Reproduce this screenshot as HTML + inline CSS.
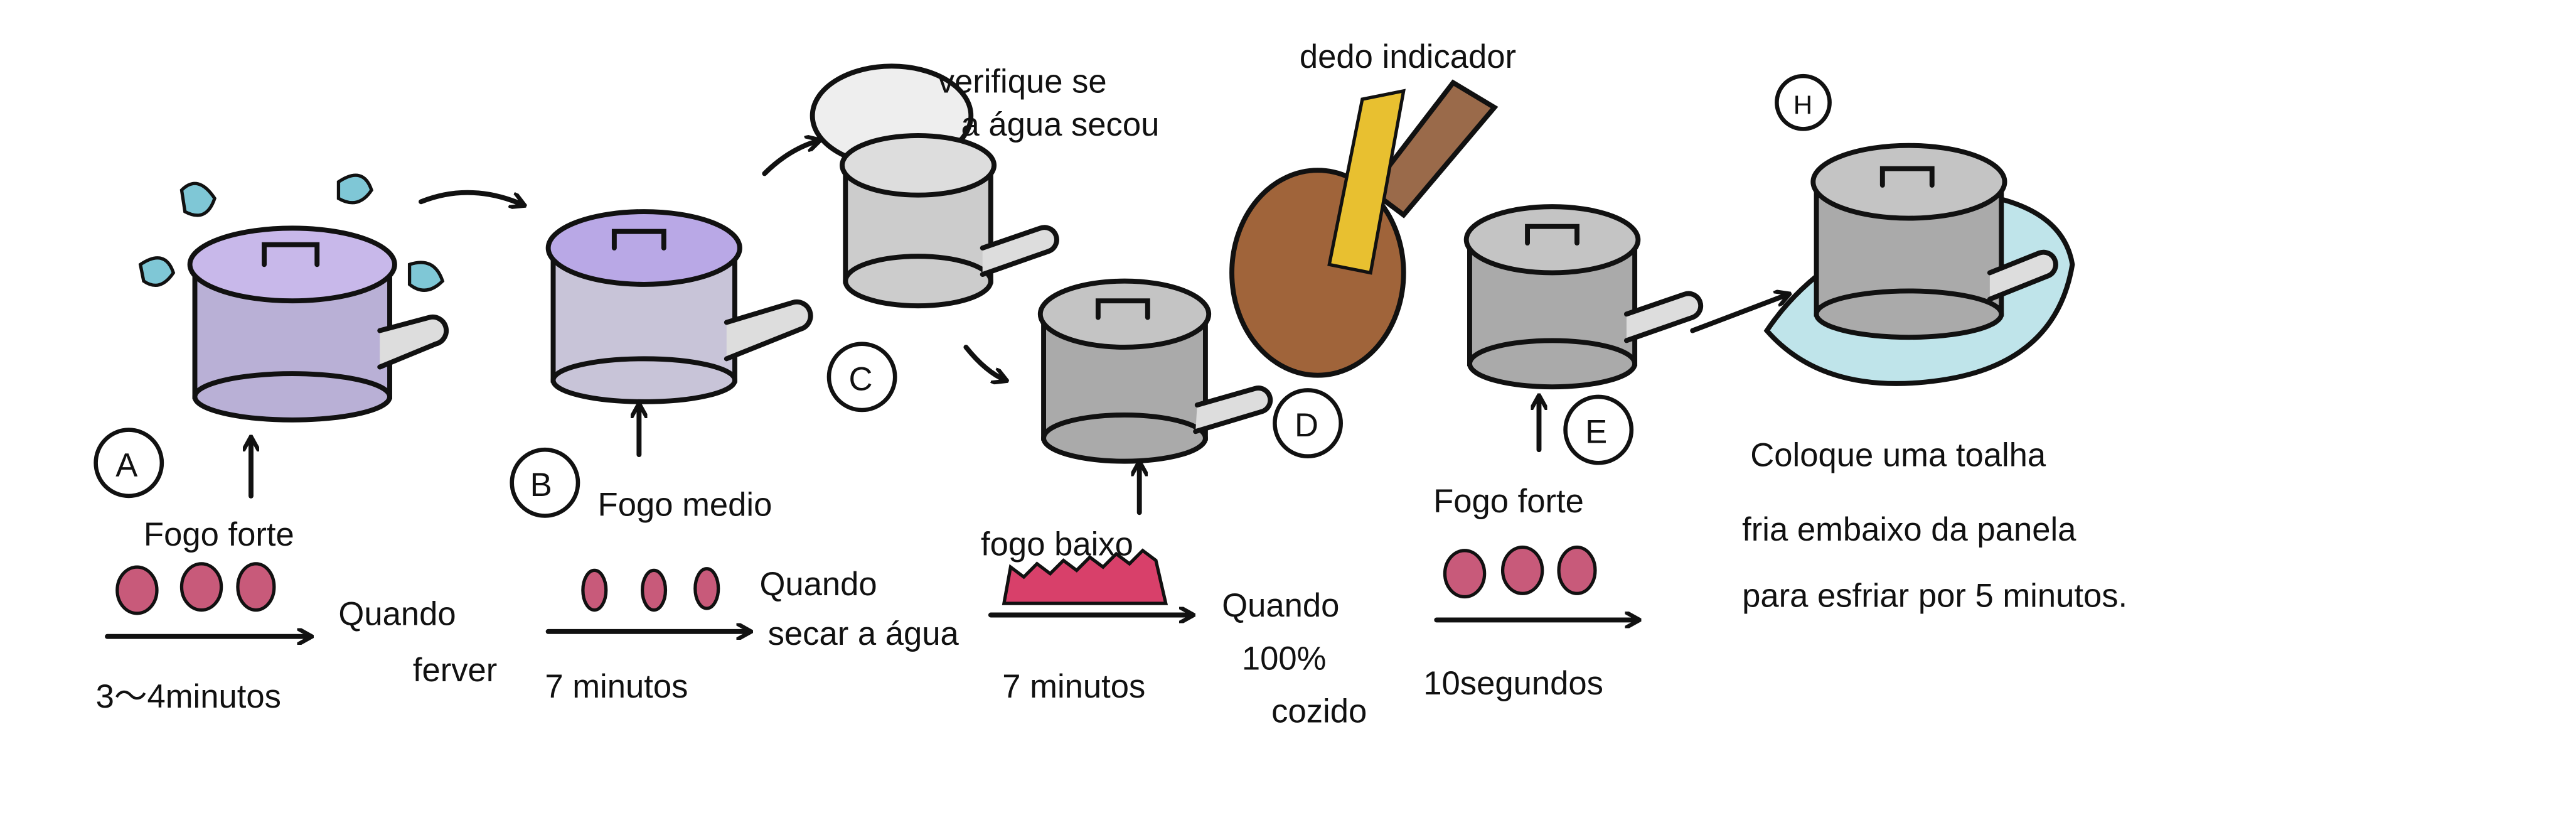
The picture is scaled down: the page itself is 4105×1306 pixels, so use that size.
<!DOCTYPE html>
<html><head><meta charset="utf-8"><style>
html,body{margin:0;padding:0;background:#fff;}
svg{display:block;}
text{font-family:"Liberation Sans",sans-serif;fill:#111;font-size:20px;}
</style></head><body>
<svg width="4105" height="1306" viewBox="0 0 1560 496" preserveAspectRatio="none" xmlns="http://www.w3.org/2000/svg">
<defs>
<marker id="ah" markerWidth="10" markerHeight="10" refX="8" refY="5" orient="auto" markerUnits="userSpaceOnUse"><path d="M0,0 L9,5 L0,10" fill="none" stroke="#111" stroke-width="2.5"/></marker>
</defs>
<rect width="1560" height="496" fill="#fff"/>
<g stroke="#111" stroke-width="3" stroke-linecap="round">
<!-- Pot A -->
<rect x="118" y="160" width="118" height="80" fill="#b9b0d6"/>
<ellipse cx="177" cy="240" rx="59" ry="14" fill="#b9b0d6"/>
<ellipse cx="177" cy="160" rx="62" ry="22" fill="#c8b8ea"/>
<path d="M160,160 v-12 h32 v12" fill="none"/>
<path d="M230,200 l30,-8 a8,8 0 0 1 4,16 l-34,14" fill="#ddd"/>
<g fill="#7fc7d6" stroke-width="2"><path d="M110,115 q10,-10 20,5 q-5,15 -18,8z"/><path d="M205,110 q15,-10 20,5 q-8,12 -20,5z"/><path d="M85,160 q15,-10 20,5 q-8,12 -18,5z"/><path d="M248,160 q15,-5 20,10 q-10,10 -20,2z"/></g>
<!-- Pot B -->
<rect x="335" y="150" width="110" height="80" fill="#c8c4d8"/>
<ellipse cx="390" cy="230" rx="55" ry="13" fill="#c8c4d8"/>
<ellipse cx="390" cy="150" rx="58" ry="22" fill="#b9a8e6"/>
<path d="M372,150 v-10 h30 v10" fill="none"/>
<path d="M440,195 l40,-12 a8,8 0 0 1 5,16 l-45,18" fill="#ddd"/>
<!-- Pot C -->
<ellipse cx="540" cy="70" rx="48" ry="30" fill="#eee"/>
<rect x="512" y="100" width="88" height="70" fill="#ccc"/>
<ellipse cx="556" cy="170" rx="44" ry="15" fill="#ccc"/>
<ellipse cx="556" cy="100" rx="46" ry="18" fill="#ddd"/>
<path d="M595,150 l35,-12 a7,7 0 0 1 5,14 l-40,14" fill="#ddd"/>
<!-- Pot D -->
<rect x="632" y="190" width="98" height="75" fill="#aaa"/>
<ellipse cx="681" cy="265" rx="49" ry="14" fill="#aaa"/>
<ellipse cx="681" cy="190" rx="51" ry="20" fill="#c4c4c4"/>
<path d="M665,192 v-10 h30 v10" fill="none"/>
<path d="M725,245 l35,-10 a7,7 0 0 1 4,14 l-40,12" fill="#ddd"/>
<!-- brown pan -->
<ellipse cx="798" cy="165" rx="52" ry="62" fill="#a0643a"/>
<path d="M830,115 l50,-65 l25,15 l-55,65z" fill="#9a6a4a"/>
<path d="M805,160 l20,-100 l25,-5 l-20,110z" fill="#e8c030" stroke-width="2"/>
<!-- Pot E -->
<rect x="890" y="145" width="100" height="75" fill="#aaa"/>
<ellipse cx="940" cy="220" rx="50" ry="14" fill="#aaa"/>
<ellipse cx="940" cy="145" rx="52" ry="20" fill="#c4c4c4"/>
<path d="M925,147 v-10 h30 v10" fill="none"/>
<path d="M985,190 l35,-12 a7,7 0 0 1 5,14 l-40,14" fill="#ddd"/>
<!-- Pot F on towel -->
<path d="M1070,200 q40,-60 140,-80 q40,10 45,40 q-10,60 -80,70 q-70,10 -105,-30z" fill="#bfe4ea"/>
<rect x="1100" y="110" width="112" height="80" fill="#aaa"/>
<ellipse cx="1156" cy="190" rx="56" ry="14" fill="#aaa"/>
<ellipse cx="1156" cy="110" rx="58" ry="22" fill="#c4c4c4"/>
<path d="M1140,112 v-10 h30 v10" fill="none"/>
<path d="M1205,165 l30,-12 a7,7 0 0 1 5,14 l-35,14" fill="#ddd"/>
<!-- letters -->
<g fill="none" stroke-width="2.5">
<circle cx="78" cy="280" r="20"/><circle cx="330" cy="292" r="20"/><circle cx="522" cy="228" r="20"/><circle cx="792" cy="256" r="20"/><circle cx="968" cy="260" r="20"/><circle cx="1092" cy="62" r="16"/>
</g>
<!-- arrows -->
<g fill="none" stroke-width="3" marker-end="url(#ah)">
<path d="M255,122 q30,-12 62,2"/>
<path d="M463,105 q15,-15 33,-20"/>
<path d="M585,210 q12,15 24,20"/>
<path d="M1025,200 l58,-22"/>
<path d="M152,300 v-35"/><path d="M387,275 v-30"/><path d="M690,310 v-30"/><path d="M932,272 v-32"/>
<path d="M65,385 h123"/><path d="M332,382 h122"/><path d="M600,372 h122"/><path d="M870,375 h122"/>
</g>
<!-- flames -->
<g fill="#c85a7a" stroke-width="2"><ellipse cx="83" cy="357" rx="12" ry="14"/><ellipse cx="122" cy="355" rx="12" ry="14"/><ellipse cx="155" cy="355" rx="11" ry="14"/>
<ellipse cx="360" cy="357" rx="7" ry="12"/><ellipse cx="396" cy="357" rx="7" ry="12"/><ellipse cx="428" cy="356" rx="7" ry="12"/>
<ellipse cx="887" cy="347" rx="12" ry="14"/><ellipse cx="922" cy="345" rx="12" ry="14"/><ellipse cx="955" cy="345" rx="11" ry="14"/></g>
<path d="M608,365 l4,-22 l8,6 l8,-8 l8,6 l8,-8 l8,6 l8,-8 l8,6 l8,-8 l8,6 l8,-8 l8,6 l6,26z" fill="#d8406a" stroke-width="2"/>
</g>
<text x="787" y="41">dedo indicador</text>
<text x="568" y="56">verifique se</text>
<text x="582" y="82">a água secou</text>
<text x="87" y="330">Fogo forte</text>
<text x="362" y="312">Fogo medio</text>
<text x="594" y="336">fogo baixo</text>
<text x="868" y="310">Fogo forte</text>
<text x="1060" y="282">Coloque uma toalha</text>
<text x="1055" y="327">fria embaixo da panela</text>
<text x="1055" y="367">para esfriar por 5 minutos.</text>
<text x="205" y="378">Quando</text>
<text x="250" y="412">ferver</text>
<text x="58" y="428">3～4minutos</text>
<text x="330" y="422">7 minutos</text>
<text x="460" y="360">Quando</text>
<text x="465" y="390">secar a água</text>
<text x="607" y="422">7 minutos</text>
<text x="740" y="373">Quando</text>
<text x="752" y="405">100%</text>
<text x="770" y="437">cozido</text>
<text x="862" y="420">10segundos</text>
<g font-size="22" style="font-size:22px"><text x="70" y="288">A</text><text x="321" y="300">B</text><text x="514" y="236">C</text><text x="784" y="264">D</text><text x="960" y="268">E</text><text x="1086" y="69" style="font-size:16px">H</text></g>
</svg>
</body></html>
